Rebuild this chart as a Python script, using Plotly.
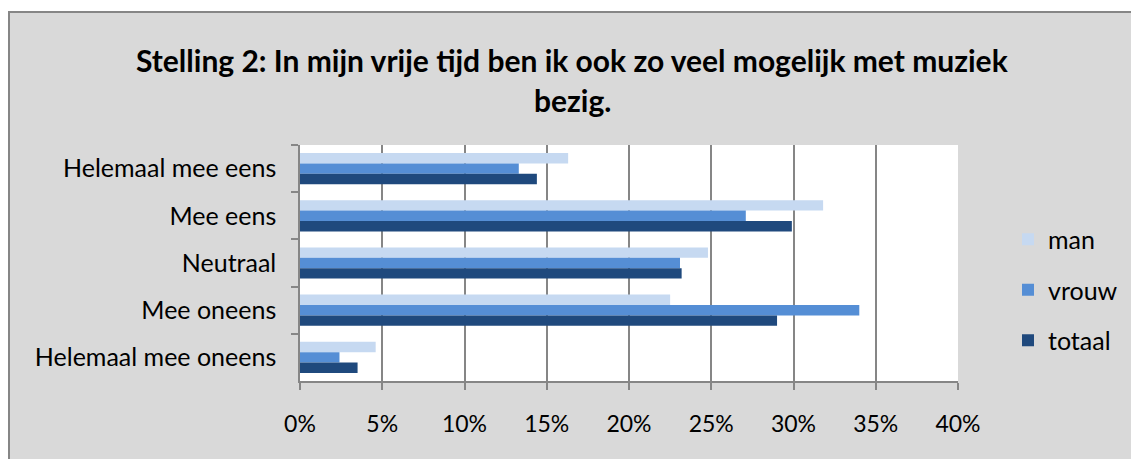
import plotly.graph_objects as go

categories = ["Helemaal mee eens", "Mee eens", "Neutraal", "Mee oneens", "Helemaal mee oneens"]
man = [16.3, 31.8, 24.8, 22.5, 4.6]
vrouw = [13.3, 27.1, 23.1, 34.0, 2.4]
totaal = [14.4, 29.9, 23.2, 29.0, 3.5]
x_ticks = [0, 5, 10, 15, 20, 25, 30, 35, 40]
x_tick_labels = [f"{v}%" for v in x_ticks]
title_lines = ["Stelling 2: In mijn vrije tijd ben ik ook zo veel mogelijk met muziek", "bezig."]

series = [("man", man, "#c6d9f1"), ("vrouw", vrouw, "#558ed5"), ("totaal", totaal, "#1f497d")]

W, H = 1131, 459
L, R, T, B = 300, 958, 145, 381

fig = go.Figure()
for name, vals, col in series:
    fig.add_trace(go.Bar(
        y=categories, x=vals, name=name, orientation="h",
        marker=dict(color=col, line=dict(width=0)),
        legendgroup=name,
    ))

def px2x(p):
    return (p - L) / (R - L)

def px2y(p):
    return (B - p) / (B - T)

font = "Lato, 'Open Sans', sans-serif"
fig.update_layout(
    width=W, height=H,
    margin=dict(l=L, r=W - R, t=T, b=H - B, autoexpand=False),
    paper_bgcolor="#d9d9d9",
    plot_bgcolor="white",
    barmode="group",
    bargap=0.34,
    bargroupgap=0,
    font=dict(family=font, size=25, color="black"),
    showlegend=True,
    legend=dict(x=px2x(1008), y=px2y(290), xanchor="left", yanchor="middle",
                bgcolor="rgba(0,0,0,0)", font=dict(size=25), tracegroupgap=15,
                traceorder="grouped"),
    xaxis=dict(range=[0, 40], tickvals=x_ticks, ticktext=x_tick_labels,
               tickfont=dict(size=23),
               showgrid=True, gridcolor="#868686", gridwidth=1.5,
               showline=True, linecolor="#868686", linewidth=1.5,
               ticks="outside", ticklen=7, tickcolor="#868686", tickwidth=1.5,
               ticklabelstandoff=15, zeroline=False, fixedrange=True),
    yaxis=dict(autorange="reversed", categoryorder="array", categoryarray=categories,
               tickfont=dict(size=25),
               showline=True, linecolor="#868686", linewidth=1.5,
               ticks="outside", ticklen=7, tickcolor="#868686", tickwidth=1.5,
               tickson="boundaries", ticklabelstandoff=17, showgrid=False),
    shapes=[
        dict(type="rect", xref="paper", yref="paper", x0=px2x(-5), x1=px2x(W + 5),
             y0=px2y(-5), y1=px2y(11), fillcolor="white", line=dict(width=0), layer="below"),
        dict(type="rect", xref="paper", yref="paper", x0=px2x(-5), x1=px2x(8),
             y0=px2y(H + 5), y1=px2y(-5), fillcolor="white", line=dict(width=0), layer="below"),
        dict(type="rect", xref="paper", yref="paper", x0=px2x(9), x1=px2x(W + 10),
             y0=px2y(H + 10), y1=px2y(12), fillcolor="rgba(0,0,0,0)",
             line=dict(color="#868686", width=2), layer="below"),
    ],
    annotations=[
        dict(text=f"<b>{title_lines[0]}</b>", xref="paper", yref="paper",
             x=px2x(572), y=px2y(60), showarrow=False, font=dict(size=30),
             xanchor="center", yanchor="middle"),
        dict(text=f"<b>{title_lines[1]}</b>", xref="paper", yref="paper",
             x=px2x(572), y=px2y(100), showarrow=False, font=dict(size=30),
             xanchor="center", yanchor="middle"),
    ],
)

fig.write_html(
    "out.html",
    config={"displayModeBar": False},
    post_script=("document.documentElement.style.overflow='hidden';"
                 "document.body.style.overflow='hidden';"
                 "document.body.style.margin='0';"),
)
